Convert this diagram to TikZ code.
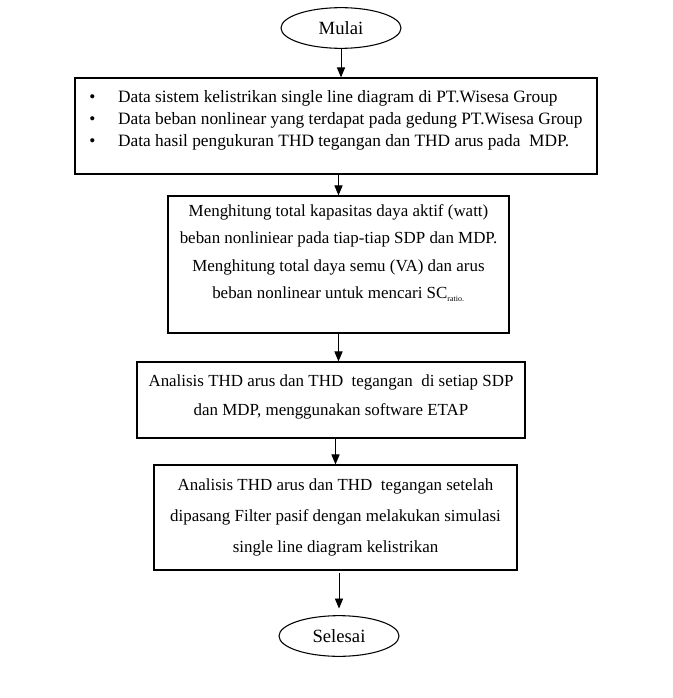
\documentclass[tikz,border=0pt]{standalone}
\usepackage{fontspec}
\setmainfont{Liberation Serif}
\usetikzlibrary{arrows,shapes.geometric}

\begin{document}
\begin{tikzpicture}[x=0.75pt,y=-0.75pt,
    terminal/.style={draw,ellipse,line width=0.8pt,minimum width=90pt,minimum height=30.5pt,inner sep=0pt,font=\fontsize{14}{16}\selectfont},
    prosesbox/.style={draw,rectangle,line width=1pt,inner sep=0pt},
    alur/.style={-triangle 45,line width=0.7pt}]
        \useasboundingbox (0,0) rectangle (673,698);
        \node[terminal] (mulai) at (341,28) {Mulai};
        \node[prosesbox,minimum width=391.5pt,minimum height=72pt,align=left,
          font=\fontsize{13}{16.7}\selectfont,text depth=11pt] (data) at (336,126)
          {\makebox[21.5pt][l]{\textbullet}Data sistem kelistrikan single line diagram di PT.Wisesa Group\\
           \makebox[21.5pt][l]{\textbullet}Data beban nonlinear yang terdapat pada gedung PT.Wisesa Group\\
           \makebox[21.5pt][l]{\textbullet}Data hasil pengukuran THD tegangan dan THD arus pada\ \ MDP.};
        \node[prosesbox,minimum width=255.75pt,minimum height=102.75pt,align=center,
          font=\fontsize{12.7}{20.6}\selectfont,text depth=19.5pt] (hitung) at (338.5,264.5)
          {Menghitung total kapasitas daya aktif (watt)\\
           beban nonliniear pada tiap-tiap SDP dan MDP.\\
           Menghitung total daya semu (VA) dan arus\\
           beban nonlinear untuk mencari SC\textsubscript{\fontsize{6}{6}\selectfont ratio.}};
        \node[prosesbox,minimum width=291pt,minimum height=57pt,align=center,
          font=\fontsize{12.7}{21.75}\selectfont,text depth=8pt] (etap) at (331,400)
          {Analisis THD arus dan THD\ \ tegangan\ \ di setiap SDP\\
           dan MDP, menggunakan software ETAP};
        \node[prosesbox,minimum width=272.25pt,minimum height=78.75pt,align=center,
          font=\fontsize{12.7}{23.25}\selectfont] (filter) at (335.5,517.5)
          {Analisis THD arus dan THD\ \ tegangan setelah\\
           dipasang Filter pasif dengan melakukan simulasi\\
           single line diagram kelistrikan};
        \node[terminal] (selesai) at (339,636) {Selesai};

        \draw[alur] (mulai) -- (mulai |- data.north);
        \draw[alur] (data.south -| hitung) -- (hitung.north);
        \draw[alur] (hitung) -- (hitung |- etap.north);
        \draw[alur] (etap.south -| filter) -- (filter.north);
        \draw[alur,shorten <=2pt,shorten >=5pt] (filter.south -| selesai) -- (selesai.north);
\end{tikzpicture}
\end{document}
